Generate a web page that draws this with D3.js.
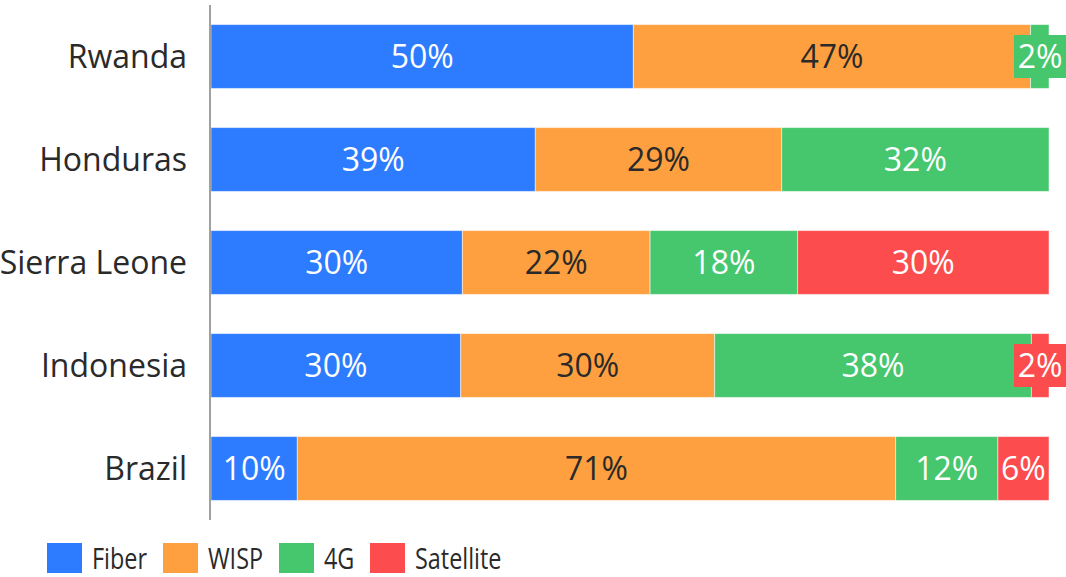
<!DOCTYPE html>
<html>
<head>
<meta charset="utf-8">
<script src="https://cdn.jsdelivr.net/npm/d3@7"></script>
<style>
  body { margin: 0; background: #fff; }
  text { font-family: "Open Sans", "Noto Sans", sans-serif; }
</style>
</head>
<body>
<script>
// data
var countries = ["Rwanda", "Honduras", "Sierra Leone", "Indonesia", "Brazil"];
var techs = ["Fiber", "WISP", "4G", "Satellite"];
var fiber = [50.4, 38.7, 30.0, 29.8, 10.3];
var wisp = [47.4, 29.4, 22.4, 30.3, 71.4];
var g4 = [2.2, 31.9, 17.6, 37.8, 12.2];
var satellite = [0, 0, 30.0, 2.1, 6.1];
var colors = ["#2d7bff", "#ffa040", "#46c66d", "#fc4c4d"];
var textColors = ["#fff", "#2a2a2a", "#fff", "#fff"];

var width = 1066, height = 577;

var rows = countries.map(function(c, i) {
  return { country: c, Fiber: fiber[i], WISP: wisp[i], "4G": g4[i], Satellite: satellite[i] };
});

var svg = d3.select("body").append("svg")
  .attr("width", width)
  .attr("height", height);

var total = d3.max(rows, function(r) { return r.Fiber + r.WISP + r["4G"] + r.Satellite; });
var x = d3.scaleLinear().domain([0, total]).range([211, 1049]);
var y = d3.scaleBand().domain(countries).range([5, 520]).paddingInner(0.38).paddingOuter(0.19);

var stack = d3.stack().keys(techs)(rows);

var layers = svg.append("g").selectAll("g")
  .data(stack)
  .enter().append("g");

layers.selectAll("rect")
  .data(function(d) { return d.filter(function(s) { return s[1] - s[0] > 0; }); })
  .enter().append("rect")
    .attr("x", function(d) { return x(d[0]); })
    .attr("y", function(d) { return y(d.data.country); })
    .attr("width", function(d) { return x(d[1]) - x(d[0]); })
    .attr("height", y.bandwidth())
    .attr("fill", function() { return colors[techs.indexOf(d3.select(this.parentNode).datum().key)]; })
    .attr("stroke", "rgba(255,255,255,0.5)")
    .attr("stroke-width", 1);

// segment labels
layers.each(function(layer, li) {
  var g = d3.select(this);
  layer.forEach(function(s) {
    var w = x(s[1]) - x(s[0]);
    if (w <= 0) return;
    var cx = x(s[0]) + w / 2;
    var cy = y(s.data.country) + y.bandwidth() / 2;
    var txt = Math.round(s[1] - s[0]) + "%";
    if (w < 40) {
      cx = 1040;
      g.append("rect")
        .attr("x", cx - 26).attr("y", cy - 21.5)
        .attr("width", 52).attr("height", 43)
        .attr("fill", colors[li]);
    }
    g.append("text")
      .attr("x", cx)
      .attr("y", cy)
      .attr("dy", "0.36em")
      .attr("text-anchor", "middle")
      .attr("font-size", 32)
      .attr("fill", textColors[li])
      .text(txt);
  });
});

// y axis
var axis = svg.append("g");
axis.append("line")
  .attr("x1", 210).attr("x2", 210)
  .attr("y1", 5).attr("y2", 520)
  .attr("stroke", "#a0a0a0").attr("stroke-width", 2);
axis.selectAll("text")
  .data(countries)
  .enter().append("text")
    .attr("x", 187)
    .attr("y", function(d) { return y(d) + y.bandwidth() / 2; })
    .attr("dy", "0.36em")
    .attr("text-anchor", "end")
    .attr("font-size", 32)
    .attr("fill", "#2a2a2a")
    .text(function(d) { return d; });

// legend
var legendX = [47, 163, 279, 370];
var legend = svg.append("g").selectAll("g")
  .data(techs)
  .enter().append("g")
    .attr("transform", function(d, i) { return "translate(" + legendX[i] + ",543)"; });
legend.append("rect")
  .attr("width", 35).attr("height", 30)
  .attr("fill", function(d, i) { return colors[i]; });
legend.append("text")
  .attr("transform", "translate(45,15) scale(0.78,1)")
  .attr("dy", "0.36em")
  .attr("font-size", 30)
  .attr("fill", "#2a2a2a")
  .text(function(d) { return d; });
</script>
</body>
</html>
